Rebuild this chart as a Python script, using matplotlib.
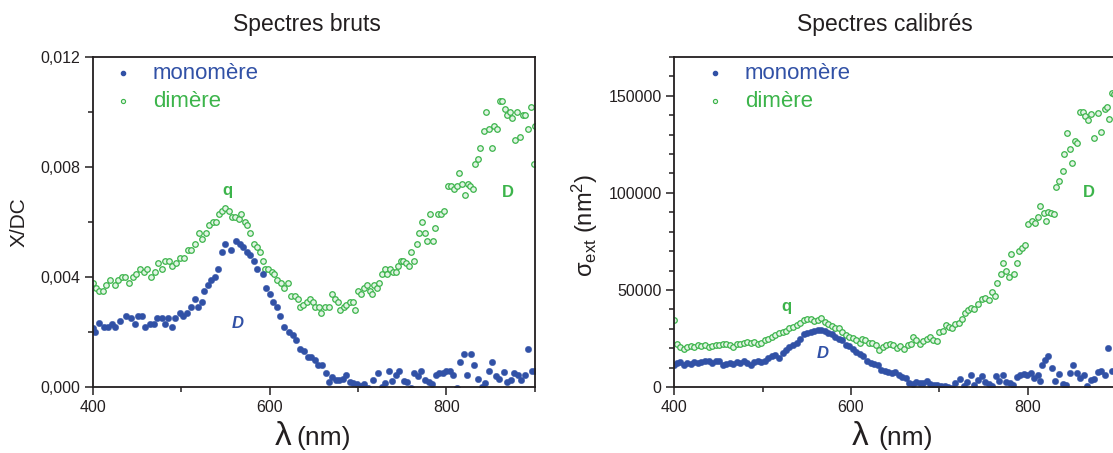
import matplotlib
matplotlib.use("Agg")
import matplotlib.pyplot as plt
from matplotlib.ticker import MultipleLocator, FuncFormatter

plt.rcParams['font.family'] = ['Liberation Sans', 'DejaVu Sans']
plt.rcParams['mathtext.fontset'] = 'custom'
plt.rcParams['mathtext.rm'] = 'Liberation Sans'
plt.rcParams['mathtext.it'] = 'Liberation Sans:italic'

# ---------------- data: left panel (raw spectra, X/DC) ----------------
raw_mono_nm = [400, 402, 407, 412, 417, 422, 425, 431, 437, 443, 448, 451, 455, 459, 464, 469,
               473, 478, 482, 485, 489, 493, 498, 502, 506, 511, 515, 519, 523, 526, 530, 534,
               538, 542, 546, 550, 556, 562, 566, 570, 574, 578, 582, 586, 592, 596, 600, 604,
               608, 612, 616, 622, 626, 630, 634, 639, 643, 647, 651, 655, 659, 664, 667, 671,
               675, 679, 683, 687, 691, 695, 699, 703, 707, 711, 717, 723, 727, 731, 735, 739,
               743, 747, 752, 756, 760, 764, 768, 772, 776, 780, 784, 788, 792, 796, 800, 804,
               808, 812, 816, 820, 824, 828, 832, 836, 840, 844, 848, 852, 856, 860, 865, 869,
               873, 877, 881, 885, 889, 893, 897, 900]
raw_mono = [.00215, .0020, .00233, .0022, .0022, .0023, .0022, .0024, .0026, .0025, .0023, .0026,
            .0026, .0022, .0023, .0023, .0025, .0025, .0023, .0025, .0022, .0025, .0027, .0026,
            .0027, .0029, .0032, .0029, .0031, .0035, .0037, .0039, .0040, .0043, .0049, .0052,
            .0050, .0053, .0052, .0051, .0049, .0048, .0046, .0043, .0041, .0036, .0034, .0031,
            .0029, .0026, .0022, .0020, .0019, .0017, .0014, .0013, .0011, .0011, .0010, .0008,
            .0008, .0005, .0002, .00035, .00027, .00027, .0003, .00045, .0002, .00015, .0001, .00003,
            .0001, -.00002, .00027, .0005, .0000, .00015, .00057, .00023, .00045, .0006, .00023, .0002,
            -.00003, .0005, .0004, .0006, .00027, .0002, .0001, .00045, .0005, .0005, .0006, .0006,
            .00045, -.00002, .0009, .0012, .00045, .0012, .0008, .0003, .0000, .00015, .0006, .0009,
            .0004, .0003, .00055, .0002, .00027, .0005, .00045, .00027, .00045, .0014, .0006, .0006]

raw_dim_nm = [400, 403.6, 407.3, 411.7, 414.5, 419.8, 424.6, 428.7, 432.7, 436.7, 440.8, 444.8,
              448.8, 453.7, 457.7, 460.9, 465.8, 469.8, 473.1, 477.9, 481.1, 486.0, 490.0, 494.0,
              498.1, 503.3, 507.4, 511.4, 515.4, 519.5, 523.5, 527.5, 531.6, 535.6, 539.6, 542.5,
              545.7, 549.7, 553.8, 557.0, 561.0, 565.1, 567.9, 571.9, 574.8, 578.0, 582.0, 585.2,
              589.3, 592.1, 594.9, 598.2, 602.2, 605.4, 608.3, 613.1, 616.3, 620.4, 624.4, 628.4,
              631.7, 634.5, 637.7, 641.8, 645.8, 648.6, 651.8, 655.5, 658.7, 662.7, 666.8, 670.8,
              674.0, 676.9, 680.1, 683.7, 686.9, 691.0, 694.2, 697.0, 700.3, 703.9, 707.1, 710.4,
              713.2, 716.0, 718.4, 721.3, 724.1, 727.3, 730.5, 733.4, 736.2, 739.4, 742.7, 745.5,
              748.3, 751.5, 754.8, 757.6, 760.4, 763.6, 766.9, 769.7, 772.5, 775.7, 778.6, 781.8,
              784.6, 787.1, 791.1, 793.9, 797.9, 802.0, 806.0, 808.9, 812.1, 814.9, 818.1, 821.0,
              824.2, 827.4, 830.2, 832.3, 835.5, 838.7, 842.3, 845.2, 848.4, 851.6, 854.5, 857.3,
              860.5, 863.7, 866.6, 869.4, 872.6, 875.0, 877.9, 880.7, 883.9, 886.8, 889.6, 892.8,
              896.1, 898.9, 900.0]
raw_dim = [.00379, .00361, .0035, .0035, .0037, .0039, .0037, .0039, .0040, .0040, .0038, .0040,
           .0041, .0043, .0042, .0043, .0040, .0042, .0045, .0043, .0046, .0046, .0044, .0045,
           .0047, .0047, .0050, .0050, .0052, .0056, .0054, .0056, .0059, .0060, .0060, .0063,
           .0064, .0065, .0064, .0062, .0062, .0061, .0063, .0060, .0059, .0056, .0052, .0051,
           .0049, .0046, .0043, .0043, .0042, .0041, .0039, .0038, .0036, .0038, .0033, .0033,
           .0032, .0029, .0030, .0031, .0032, .0031, .0029, .0029, .0027, .0029, .0029, .0034,
           .0032, .0031, .0028, .0029, .0030, .0031, .0031, .0028, .0035, .0034, .0036, .0037,
           .0035, .0034, .0037, .0036, .0038, .0041, .0043, .0041, .0043, .0042, .0042, .0044,
           .0046, .0046, .0045, .0044, .0049, .0046, .0052, .0056, .0060, .0056, .0053, .0063,
           .0053, .0058, .0063, .0063, .0064, .0073, .0073, .0072, .0073, .0078, .0074, .0070,
           .0074, .0073, .0072, .0081, .0083, .0087, .0093, .0100, .0094, .0087, .0095, .0094,
           .0104, .0104, .0101, .0099, .0100, .0098, .0090, .0100, .0091, .0099, .0099, .0094,
           .0102, .0081, .0095]

# ---------------- data: right panel (calibrated, sigma_ext in nm^2) ----------------
cal_mono_nm = [400.0, 403.2, 407.2, 411.1, 415.1, 419.1, 423.1, 427.1, 431.0, 435.0, 439.0, 443.0,
               447.0, 450.9, 454.9, 458.9, 462.9, 466.9, 470.8, 474.8, 478.8, 482.8, 486.8, 490.7,
               494.7, 498.7, 502.7, 506.7, 510.6, 514.6, 518.6, 522.6, 526.6, 530.5, 534.5, 538.5,
               542.5, 546.5, 550.4, 554.4, 558.4, 562.4, 566.4, 570.3, 574.3, 578.3, 582.3, 586.3,
               590.2, 594.2, 598.2, 602.2, 606.2, 610.1, 614.1, 618.1, 622.1, 626.1, 630.0, 634.0,
               638.0, 642.0, 646.0, 649.9, 653.9, 657.9, 661.9, 665.9, 669.8, 673.8, 677.8, 681.8,
               685.8, 689.7, 693.7, 697.7, 701.7, 705.7, 709.6, 713.6, 717.6, 723.6, 727.6, 731.5,
               735.5, 739.5, 743.5, 747.5, 751.4, 755.4, 759.4, 763.4, 767.4, 771.3, 775.3, 779.3,
               783.3, 787.3, 791.2, 795.2, 799.2, 803.2, 807.2, 811.1, 813.9, 816.3, 819.1, 823.1,
               827.1, 831.0, 835.0, 839.0, 843.0, 847.0, 850.9, 854.9, 858.9, 862.9, 866.9, 870.8,
               874.8, 878.8, 882.8, 886.8, 890.7, 894.7, 899.0]
cal_mono = [11550, 12400, 12900, 11550, 12200, 11900, 12750, 12200, 12900, 13300, 13600, 12400,
            13300, 13600, 11550, 11900, 12200, 11900, 12900, 12200, 13300, 12200, 11550, 12900,
            13600, 12900, 13600, 15000, 15900, 16400, 15000, 17600, 19300, 20500, 21500, 22800,
            24500, 27100, 27900, 28400, 29100, 29600, 29600, 29100, 27900, 27100, 25700, 24500,
            24000, 21500, 21000, 19800, 18100, 17100, 15900, 13600, 12400, 11900, 11200, 9000,
            8400, 7800, 7200, 7800, 6400, 5000, 4700, 2100, 1550, 2600, 2100, 2200,
            2900, 1550, 860, 860, 340, 340, 0, -300, 2100, 4300, 340, 2600,
            6000, 1200, 3800, 5500, 2600, 1550, 340, 5500, 3300, 6400, 2600, 2100,
            1200, 5000, 6000, 6700, 6400, 7200, 4700, 6000, 3300, 11200, 14100, 15900,
            9800, 3300, 6700, 1550, 1200, 7200, 11550, 7200, 4700, 6400, 340, 3800,
            4300, 7800, 8100, 6400, 20200, 8400, 9800]

cal_dim_nm = [400.0, 403.2, 407.2, 411.1, 415.1, 419.1, 423.1, 427.1, 431.0, 435.0, 439.0, 443.0,
              447.0, 450.9, 454.9, 458.9, 462.9, 466.9, 470.8, 474.8, 478.8, 482.8, 486.8, 490.7,
              494.7, 498.7, 502.7, 506.7, 510.6, 514.6, 518.6, 522.6, 526.6, 530.5, 534.5, 538.5,
              542.5, 546.5, 550.4, 554.4, 558.4, 562.4, 566.4, 570.3, 574.3, 578.3, 582.3, 586.3,
              590.2, 594.2, 598.2, 602.2, 606.2, 610.1, 612.1, 616.1, 620.1, 624.1, 628.1, 632.0,
              636.0, 640.0, 644.0, 648.0, 651.9, 655.9, 659.9, 663.9, 667.9, 670.6, 673.8, 677.8,
              681.8, 685.8, 689.7, 692.9, 696.9, 699.7, 703.7, 707.7, 710.4, 713.6, 717.6, 721.6,
              725.6, 728.7, 732.7, 735.5, 739.5, 743.5, 747.5, 751.4, 755.4, 759.4, 762.2, 765.4,
              769.3, 772.1, 775.3, 778.1, 781.3, 784.5, 787.7, 790.0, 793.2, 796.4, 800.4, 804.4,
              808.3, 811.1, 813.9, 817.9, 820.3, 823.1, 826.3, 829.0, 832.2, 835.0, 839.0, 841.0,
              843.8, 847.0, 850.1, 852.9, 855.7, 858.9, 862.1, 864.9, 867.7, 870.8, 874.8, 878.8,
              882.8, 886.8, 889.5, 891.9, 894.7, 897.5]
cal_dim = [34300, 21900, 20500, 19800, 20500, 21000, 20500, 21500, 21000, 21500, 20500, 21000,
           21500, 21500, 21900, 22200, 21500, 20500, 21900, 22200, 22800, 23300, 22800, 23300,
           22200, 22800, 24000, 24500, 25700, 26700, 27900, 28400, 29100, 30200, 30900, 31900,
           33100, 34300, 34800, 34800, 34000, 34300, 35700, 33600, 32600, 31400, 30500, 30200,
           28400, 26700, 25700, 25000, 24000, 22800, 24500, 24000, 22800, 22800, 21500, 19300,
           20500, 21500, 22200, 21500, 20200, 21000, 19800, 21500, 22200, 25700, 24000, 22200,
           23600, 24500, 25700, 24000, 23600, 28400, 29100, 31900, 30900, 30200, 32200, 33100,
           34800, 38300, 39500, 40900, 40000, 42600, 45200, 45700, 44700, 49100, 46900, 53800,
           58100, 64100, 59800, 56700, 68300, 58400, 64100, 70000, 71400, 73100, 84000, 85300,
           84300, 87400, 93400, 89400, 85700, 90400, 89400, 89100, 102900, 106000, 111200, 120200,
           130900, 122800, 115500, 126800, 125900, 141700, 141700, 139500, 137400, 140400, 128500, 141000,
           131400, 143400, 144300, 138300, 151200, 151000]

raw_yticks = [0.000, 0.004, 0.008, 0.012]
cal_yticks = [0, 50000, 100000, 150000]
x_ticks = [400, 600, 800]

# ---------------- style ----------------
BLUE = '#3151a6'
GREEN = '#3cb44b'
DARK = '#231f20'

fig = plt.figure(figsize=(11.13, 4.53), dpi=100)
W, H = 1113.0, 453.0
ax1 = fig.add_axes([93 / W, 1 - 387 / H, 441.5 / W, 330 / H])
ax2 = fig.add_axes([674 / W, 1 - 387 / H, 442.5 / W, 330 / H])


def style(ax):
    for s in ax.spines.values():
        s.set_color(DARK)
        s.set_linewidth(1.3)
    ax.tick_params(which='both', direction='out', color=DARK, labelcolor=DARK,
                   top=False, right=False, labelsize=11.5, width=1.1)
    ax.tick_params(which='major', length=6, pad=3)
    ax.tick_params(which='minor', length=3.5)
    ax.set_xlim(400, 900)
    ax.xaxis.set_major_locator(plt.FixedLocator(x_ticks))
    ax.xaxis.set_minor_locator(MultipleLocator(100))


def draw(ax, mono_x, mono_y, dim_x, dim_y):
    ax.plot(dim_x, dim_y, 'o', ms=4.0, mfc='#e2f4e4', mec=GREEN, mew=0.9, clip_on=True)
    ax.plot(mono_x, mono_y, 'o', ms=4.6, mfc=BLUE, mec=BLUE, mew=0.3, clip_on=True)


# left panel
draw(ax1, raw_mono_nm, raw_mono, raw_dim_nm, raw_dim)
style(ax1)
ax1.set_ylim(0, 0.012)
ax1.yaxis.set_major_locator(plt.FixedLocator(raw_yticks))
ax1.yaxis.set_minor_locator(MultipleLocator(0.002))
ax1.yaxis.set_major_formatter(FuncFormatter(lambda v, p: f"{v:.3f}".replace('.', ',')))

# right panel
draw(ax2, cal_mono_nm, cal_mono, cal_dim_nm, cal_dim)
style(ax2)
ax2.set_ylim(0, 170000)
ax2.yaxis.set_major_locator(plt.FixedLocator(cal_yticks))
ax2.yaxis.set_minor_locator(MultipleLocator(10000))
ax2.yaxis.set_major_formatter(FuncFormatter(lambda v, p: f"{int(round(v))}"))

# legends (manual)
for ax, mx, tx in [(ax1, 30 / 441.5, 60 / 441.5), (ax2, 41 / 442.5, 71 / 442.5)]:
    ax.plot([mx], [1 - 16 / 330], 'o', ms=3.0, mfc=BLUE, mec=BLUE, transform=ax.transAxes, clip_on=False)
    ax.plot([mx], [1 - 44 / 330], 'o', ms=3.0, mfc='#e2f4e4', mec=GREEN, mew=0.8,
            transform=ax.transAxes, clip_on=False)
    ax.text(tx, 1 - 16 / 330, 'monomère', color=BLUE, fontsize=16, va='center', ha='left',
            transform=ax.transAxes)
    ax.text(tx, 1 - 44 / 330, 'dimère', color=GREEN, fontsize=16, va='center', ha='left',
            transform=ax.transAxes)

# peak annotations
ax1.text(552, 0.00716, 'q', color=GREEN, fontsize=12, fontweight='bold', ha='center', va='center')
ax1.text(870, 0.00707, 'D', color=GREEN, fontsize=12, fontweight='bold', ha='center', va='center')
ax1.text(564, 0.00232, 'D', color=BLUE, fontsize=12, fontweight='bold', fontstyle='italic',
         ha='center', va='center')
ax2.text(527, 41400, 'q', color=GREEN, fontsize=12, fontweight='bold', ha='center', va='center')
ax2.text(869, 100200, 'D', color=GREEN, fontsize=12, fontweight='bold', ha='center', va='center')
ax2.text(568, 17400, 'D', color=BLUE, fontsize=12, fontweight='bold', fontstyle='italic',
         ha='center', va='center')

# titles
fig.text(307 / W, 1 - 25 / H, 'Spectres bruts', fontsize=16.5, color=DARK, ha='center', va='center')
fig.text(885 / W, 1 - 25 / H, 'Spectres calibrés', fontsize=16.5, color=DARK, ha='center', va='center')

# y labels
fig.text(19 / W, 1 - 222 / H, 'X/DC', fontsize=15, color=DARK, rotation=90, ha='center', va='center')
fig.text(585 / W, 1 - 225 / H, r'$\mathregular{\sigma_{ext}\ (nm^2)}$', fontsize=17, color=DARK,
         rotation=90, ha='center', va='center')

# x labels: big lambda + (nm)
for lx, nx in [(283, 296), (860, 878)]:
    fig.text(lx / W, 1 - 445 / H, 'λ', fontsize=24, color=DARK, ha='center', va='baseline')
    fig.text(nx / W, 1 - 445 / H, '(nm)', fontsize=19, color=DARK, ha='left', va='baseline')

fig.savefig('out.png', dpi=100)
